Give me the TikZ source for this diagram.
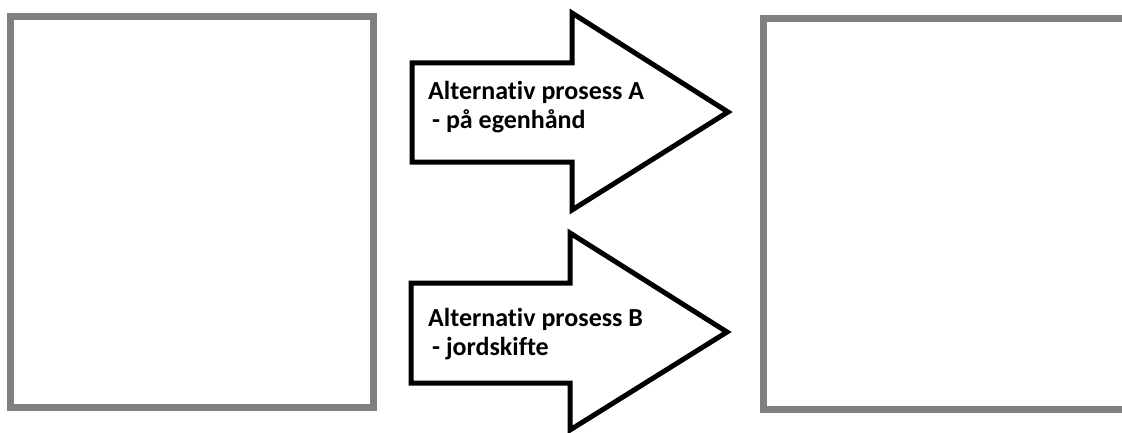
\documentclass[tikz,border=0pt]{standalone}
\usepackage{fontspec}
\setmainfont[Ligatures={NoCommon}]{Carlito}
\begin{document}
\begin{tikzpicture}[x=1pt,y=1pt,
  frame/.style={draw={rgb,255:red,128;green,128;blue,128}, line width=7pt},
  bigarrow/.style={draw=black, line width=5pt, line join=miter, fill=white},
  label/.style={anchor=base west, inner sep=0pt, font=\bfseries\fontsize{26}{30}\selectfont, text=black}]
\useasboundingbox (0,0) rectangle (1122,432);
\clip (0,0) rectangle (1122,432);
% side panels
\draw[frame] (10,25) rectangle (373,415);
\draw[frame] (763.5,23) rectangle (1140,413.5);
% arrow A
\draw[bigarrow] (412,369) -- (572,369) -- (572,419) -- (728,320) -- (572,222) -- (572,270) -- (412,270) -- cycle;
\node[label] (la1) at (428,332) {Alternativ prosess A};
\node[label] (la2) at (432,304) {- på egenhånd};
% arrow B
\draw[bigarrow] (411,149) -- (570,149) -- (570,199) -- (727,100) -- (570,2) -- (570,49) -- (411,49) -- cycle;
\node[label] (lb1) at (428,106) {Alternativ prosess B};
\node[label] (lb2) at (432,77) {- jordskifte};
\end{tikzpicture}
\end{document}
